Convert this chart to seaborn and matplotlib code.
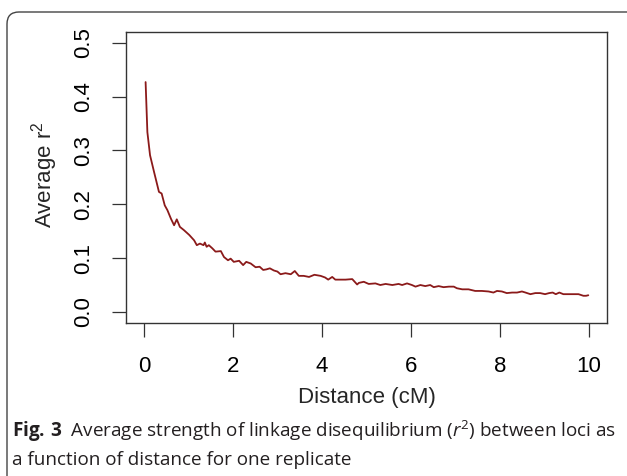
import numpy as np
import pandas as pd
import matplotlib
matplotlib.use("Agg")
import matplotlib.pyplot as plt
import seaborn as sns
from matplotlib.patches import FancyBboxPatch

distance = [0.04, 0.08, 0.14, 0.23, 0.34, 0.40, 0.47, 0.53, 0.61, 0.68, 0.74, 0.81, 0.90,
            1.02, 1.13, 1.19, 1.26, 1.34, 1.37, 1.41, 1.46, 1.54, 1.61, 1.73, 1.80, 1.89,
            1.95, 2.02, 2.14, 2.23, 2.30, 2.40, 2.51, 2.60, 2.68, 2.75, 2.83, 2.92, 3.00,
            3.07, 3.18, 3.30, 3.39, 3.48, 3.59, 3.71, 3.83, 3.97, 4.07, 4.14, 4.23, 4.30,
            4.42, 4.53, 4.68, 4.79, 4.83, 4.94, 5.05, 5.20, 5.31, 5.43, 5.58, 5.72, 5.80,
            5.91, 6.02, 6.10, 6.21, 6.32, 6.43, 6.51, 6.62, 6.73, 6.85, 6.96, 7.03, 7.15,
            7.29, 7.44, 7.59, 7.74, 7.85, 7.93, 8.04, 8.15, 8.27, 8.38, 8.49, 8.57, 8.68,
            8.79, 8.90, 9.01, 9.10, 9.18, 9.25, 9.33, 9.42, 9.54, 9.65, 9.76, 9.87, 9.93, 9.98]
avg_r2 = [0.427, 0.334, 0.291, 0.260, 0.223, 0.220, 0.198, 0.189, 0.173, 0.161, 0.172, 0.158, 0.152,
          0.143, 0.133, 0.124, 0.127, 0.124, 0.129, 0.121, 0.124, 0.118, 0.112, 0.113, 0.102, 0.096,
          0.099, 0.093, 0.095, 0.087, 0.093, 0.090, 0.083, 0.084, 0.078, 0.079, 0.081, 0.077, 0.075,
          0.070, 0.072, 0.070, 0.076, 0.067, 0.067, 0.065, 0.069, 0.067, 0.064, 0.060, 0.065, 0.060,
          0.060, 0.060, 0.061, 0.051, 0.054, 0.056, 0.052, 0.053, 0.050, 0.052, 0.050, 0.052, 0.050,
          0.053, 0.050, 0.047, 0.050, 0.048, 0.050, 0.046, 0.048, 0.046, 0.047, 0.047, 0.044, 0.042,
          0.042, 0.039, 0.039, 0.038, 0.036, 0.039, 0.038, 0.035, 0.036, 0.036, 0.038, 0.036, 0.033,
          0.035, 0.035, 0.033, 0.035, 0.036, 0.033, 0.036, 0.033, 0.033, 0.033, 0.033, 0.030, 0.030, 0.031]

x_ticks = [0, 2, 4, 6, 8, 10]
y_ticks = [0.0, 0.1, 0.2, 0.3, 0.4, 0.5]
x_label = "Distance (cM)"
y_label = r"Average $\mathregular{r^2}$"
caption1 = r"$\mathbf{Fig.\,3}$  Average strength of linkage disequilibrium ($\mathit{r}^2$) between loci as"
caption2 = "a function of distance for one replicate"

sns.set_style("white")
plt.rcParams["font.family"] = ["Liberation Sans", "DejaVu Sans"]
plt.rcParams["mathtext.fontset"] = "custom"
plt.rcParams["mathtext.rm"] = "Open Sans"
plt.rcParams["mathtext.it"] = "Open Sans:italic"
plt.rcParams["mathtext.bf"] = "Open Sans:bold"

W, H = 627, 476
fig = plt.figure(figsize=(W / 100, H / 100), dpi=100)
fig.patch.set_facecolor("white")

L, R, T, B = 126, 607, 32, 322.7
ax = fig.add_axes([L / W, 1 - B / H, (R - L) / W, (B - T) / H])

df = pd.DataFrame({"distance": distance, "r2": avg_r2})
sns.lineplot(data=df, x="distance", y="r2", color="#8B1A1A", linewidth=1.3, ax=ax)

ax.set_xlim(-0.4, 10.4)
ax.set_ylim(-0.02, 0.52)
ax.set_xticks(x_ticks)
ax.set_xticklabels([str(t) for t in x_ticks])
ax.set_yticks(y_ticks)
ax.set_yticklabels([f"{t:.1f}" for t in y_ticks], rotation=90, va="center")
ax.tick_params(axis="both", direction="out", length=10, width=0.9, color="#333333",
               labelsize=16, labelcolor="black", bottom=True, left=True)
ax.tick_params(axis="y", pad=13)
ax.tick_params(axis="x", pad=14)
for s in ax.spines.values():
    s.set_visible(True)
    s.set_color("#333333")
    s.set_linewidth(1.0)
ax.set_xlabel("")
ax.set_ylabel("")

fig.text(366.5 / W, 1 - 398 / H, x_label, ha="center", va="center", fontsize=16)
fig.text(45 / W, 1 - 175 / H, y_label, ha="center", va="center", rotation=90, fontsize=16)

fig.text(12 / W, 1 - 437 / H, caption1, ha="left", va="baseline", fontsize=13.6,
         family="Open Sans", color="#231f20")
fig.text(12 / W, 1 - 465 / H, caption2, ha="left", va="baseline", fontsize=13.6,
         family="Open Sans", color="#231f20")

frame = FancyBboxPatch((7, -30), 700, (H - 12) + 30, boxstyle="round,pad=0,rounding_size=12",
                       transform=None, facecolor="none", edgecolor="#444444", linewidth=1.0)
fig.add_artist(frame)

fig.savefig("out.png", dpi=100, facecolor="white")
